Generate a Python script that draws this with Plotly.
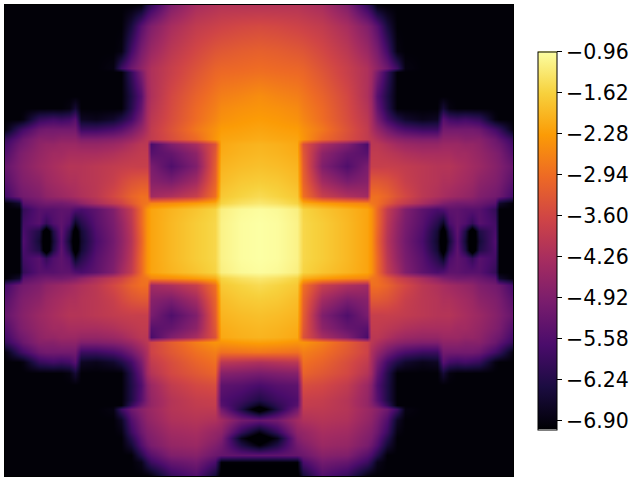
import plotly.graph_objects as go

# knots, left half only (the field is mirrored left/right)
x_left = [4, 18, 22, 38, 45, 52, 60, 68, 74, 80, 95, 112, 120, 130, 140, 146, 150, 170, 195, 214, 220, 240, 258.5]

y_rows = [4, 25, 50, 67, 71, 95, 107, 118, 128, 138, 143, 152, 165, 180, 195, 202, 208, 222, 230, 240,
          250, 258, 272, 278, 285, 300, 315, 328, 337, 342, 352, 362, 373, 385, 400, 405, 409, 420, 432, 438, 445, 455, 462, 476]

z_left = [
    [-7, -7, -7, -7, -7, -7, -7, -7, -7, -7, -7, -7, -7, -7, -6.9, -6.3, -6.0, -4.9, -4.3, -4.15, -4.1, -4.1, -4.1],
    [-7, -7, -7, -7, -7, -7, -7, -7, -7, -7, -7, -7, -7, -6.4, -5.5, -5.1, -4.9, -4.3, -3.9, -3.75, -3.7, -3.6, -3.55],
    [-7, -7, -7, -7, -7, -7, -7, -7, -7, -7, -7, -7, -6.9, -5.8, -5.0, -4.7, -4.5, -4.0, -3.6, -3.35, -3.3, -3.2, -3.15],
    [-7, -7, -7, -7, -7, -7, -7, -7, -7, -7, -7, -6.9, -5.9, -5.2, -4.7, -4.4, -4.2, -3.8, -3.4, -3.1, -3.05, -3.0, -2.95],
    [-7, -7, -7, -7, -7, -7, -7, -7, -7, -7, -7, -7, -7, -6.0, -5.0, -4.4, -4.2, -3.8, -3.35, -3.05, -3.0, -2.95, -2.9],
    [-7, -7, -7, -7, -7, -7, -7, -7, -7, -7, -7, -7, -7, -6.3, -5.5, -4.5, -4.2, -3.6, -3.1, -2.8, -2.7, -2.6, -2.5],
    [-7, -7, -7, -7, -7, -7, -7, -6.9, -6.5, -7, -7, -7, -7, -6.2, -5.3, -4.4, -4.1, -3.55, -3.0, -2.7, -2.55, -2.45, -2.4],
    [-7, -7, -6.9, -6.0, -5.9, -5.8, -5.9, -5.8, -5.5, -6.7, -6.8, -6.6, -6.3, -5.8, -5.0, -4.3, -4.0, -3.5, -2.95, -2.6, -2.45, -2.35, -2.3],
    [-6.9, -6.0, -5.8, -5.2, -5.1, -5.1, -5.1, -5.1, -5.1, -5.9, -5.9, -5.7, -5.5, -5.1, -4.6, -4.2, -3.9, -3.4, -2.8, -2.45, -2.3, -2.25, -2.2],
    [-6.0, -5.4, -5.2, -4.8, -4.8, -4.8, -4.7, -4.7, -4.7, -4.9, -4.9, -4.8, -4.7, -4.5, -4.2, -4.0, -3.9, -3.5, -3.0, -2.4, -2.2, -2.15, -2.1],
    [-5.8, -5.2, -5.1, -4.7, -4.6, -4.6, -4.5, -4.5, -4.5, -4.6, -4.6, -4.5, -4.4, -4.2, -4.0, -4.0, -5.7, -4.9, -4.3, -3.4, -2.15, -2.05, -2.0],
    [-5.6, -5.0, -4.9, -4.6, -4.5, -4.4, -4.4, -4.3, -4.3, -4.3, -4.3, -4.2, -4.1, -4.0, -3.9, -3.9, -5.5, -5.3, -4.7, -3.3, -2.1, -2.0, -1.95],
    [-5.3, -4.9, -4.8, -4.5, -4.4, -4.3, -4.2, -4.1, -4.1, -4.1, -4.0, -3.9, -3.85, -3.8, -3.8, -3.8, -5.0, -5.6, -4.9, -3.2, -2.0, -1.9, -1.85],
    [-5.5, -5.0, -4.9, -4.7, -4.5, -4.4, -4.3, -4.2, -4.2, -4.1, -4.0, -3.8, -3.6, -3.4, -3.3, -3.3, -4.8, -5.0, -4.4, -3.1, -1.9, -1.75, -1.7],
    [-5.8, -5.2, -5.1, -4.9, -4.7, -4.6, -4.5, -4.4, -4.3, -4.2, -4.0, -3.6, -3.4, -3.1, -2.9, -2.9, -4.4, -4.2, -3.8, -2.9, -1.75, -1.6, -1.5],
    [-7, -6.6, -5.5, -5.2, -5.1, -5.1, -5.1, -5.0, -4.9, -4.7, -4.3, -3.9, -3.7, -3.3, -2.9, -2.8, -2.6, -2.5, -2.3, -2.1, -1.6, -1.4, -1.3],
    [-7, -7, -6.0, -5.5, -5.5, -5.5, -5.4, -5.4, -5.6, -5.7, -5.4, -4.9, -4.4, -3.9, -3.0, -2.4, -2.2, -2.0, -1.8, -1.6, -1.2, -1.05, -1.0],
    [-7, -7, -5.8, -5.5, -6.0, -5.6, -5.4, -5.7, -6.7, -6.2, -5.5, -5.0, -4.6, -4.0, -3.0, -2.4, -2.2, -1.95, -1.7, -1.55, -1.15, -1.0, -0.96],
    [-7, -7, -5.7, -6.3, -7.6, -6.3, -5.4, -6.2, -7.4, -6.5, -5.6, -5.05, -4.65, -4.05, -3.05, -2.4, -2.2, -1.95, -1.7, -1.55, -1.15, -1.0, -0.96],
    [-7, -7, -5.6, -6.5, -7.6, -6.5, -5.5, -6.5, -7.5, -6.6, -5.7, -5.1, -4.7, -4.1, -3.1, -2.4, -2.2, -1.95, -1.7, -1.55, -1.15, -1.0, -0.96],
    [-7, -7, -5.7, -6.3, -7.6, -6.3, -5.4, -6.2, -7.4, -6.5, -5.6, -5.05, -4.65, -4.05, -3.05, -2.4, -2.2, -1.95, -1.7, -1.55, -1.15, -1.0, -0.96],
    [-7, -7, -5.8, -5.5, -6.0, -5.6, -5.4, -5.7, -6.7, -6.2, -5.5, -5.0, -4.6, -4.0, -3.0, -2.4, -2.2, -1.95, -1.7, -1.55, -1.15, -1.0, -0.96],
    [-7, -7, -6.0, -5.5, -5.5, -5.5, -5.4, -5.4, -5.6, -5.7, -5.4, -4.9, -4.4, -3.9, -3.0, -2.4, -2.2, -2.0, -1.8, -1.6, -1.2, -1.05, -1.0],
    [-7, -6.6, -5.5, -5.2, -5.1, -5.1, -5.1, -5.0, -4.9, -4.7, -4.3, -3.9, -3.7, -3.3, -2.9, -2.8, -2.6, -2.5, -2.3, -2.1, -1.6, -1.4, -1.3],
    [-5.8, -5.2, -5.1, -4.9, -4.7, -4.6, -4.5, -4.4, -4.3, -4.2, -4.0, -3.6, -3.4, -3.1, -2.9, -2.9, -4.4, -4.2, -3.8, -2.9, -1.75, -1.6, -1.5],
    [-5.5, -5.0, -4.9, -4.7, -4.5, -4.4, -4.3, -4.2, -4.2, -4.1, -4.0, -3.8, -3.6, -3.4, -3.3, -3.3, -4.8, -5.0, -4.4, -3.1, -1.9, -1.75, -1.7],
    [-5.3, -4.9, -4.8, -4.5, -4.4, -4.3, -4.2, -4.1, -4.1, -4.1, -4.0, -3.9, -3.85, -3.8, -3.8, -3.8, -5.0, -5.6, -4.9, -3.2, -2.0, -1.9, -1.85],
    [-5.6, -5.0, -4.9, -4.6, -4.5, -4.4, -4.4, -4.3, -4.3, -4.3, -4.3, -4.2, -4.1, -4.0, -3.9, -3.9, -5.5, -5.3, -4.7, -3.3, -2.1, -2.0, -1.95],
    [-5.8, -5.2, -5.1, -4.7, -4.6, -4.6, -4.5, -4.5, -4.5, -4.6, -4.6, -4.5, -4.4, -4.2, -4.0, -4.0, -5.7, -4.9, -4.3, -3.4, -2.15, -2.05, -2.0],
    [-6.0, -5.4, -5.2, -4.8, -4.8, -4.8, -4.7, -4.7, -4.7, -4.9, -4.9, -4.8, -4.7, -4.5, -4.2, -4.0, -3.7, -3.2, -2.7, -2.4, -2.4, -2.3, -2.25],
    [-6.9, -6.0, -5.8, -5.2, -5.1, -5.1, -5.1, -5.1, -5.1, -5.9, -5.9, -5.7, -5.5, -5.1, -4.6, -4.2, -3.7, -3.3, -2.9, -2.7, -2.9, -2.85, -2.8],
    [-7, -7, -6.9, -6.0, -5.9, -5.8, -5.9, -5.8, -5.5, -6.7, -6.8, -6.6, -6.3, -5.8, -5.0, -4.3, -3.9, -3.5, -3.1, -2.9, -4.0, -4.1, -4.2],
    [-7, -7, -7, -7, -7, -7, -7, -6.9, -6.5, -7, -7, -7, -7, -6.2, -5.3, -4.4, -4.1, -3.6, -3.3, -3.1, -4.8, -4.9, -5.0],
    [-7, -7, -7, -7, -7, -7, -7, -7, -7, -7, -7, -7, -7, -6.3, -5.6, -4.8, -4.5, -3.9, -3.6, -3.5, -5.4, -5.5, -5.7],
    [-7, -7, -7, -7, -7, -7, -7, -7, -7, -7, -7, -7, -7, -6.3, -5.5, -4.9, -4.6, -4.1, -3.85, -3.8, -5.6, -5.9, -6.3],
    [-7, -7, -7, -7, -7, -7, -7, -7, -7, -7, -7, -7, -7, -6.0, -5.2, -4.8, -4.6, -4.1, -3.9, -3.85, -5.5, -6.1, -6.8],
    [-7, -7, -7, -7, -7, -7, -7, -7, -7, -7, -7, -6.9, -5.9, -5.2, -4.8, -4.6, -4.5, -4.1, -3.95, -3.95, -5.1, -6.3, -7.5],
    [-7, -7, -7, -7, -7, -7, -7, -7, -7, -7, -7, -7, -6.7, -5.6, -5.0, -4.7, -4.6, -4.2, -4.1, -4.2, -4.4, -5.1, -5.3],
    [-7, -7, -7, -7, -7, -7, -7, -7, -7, -7, -7, -7, -6.9, -5.9, -5.2, -4.9, -4.8, -4.4, -4.3, -4.6, -4.7, -6.0, -6.9],
    [-7, -7, -7, -7, -7, -7, -7, -7, -7, -7, -7, -7, -7, -6.2, -5.4, -5.0, -4.9, -4.5, -4.4, -4.7, -4.9, -6.8, -7.6],
    [-7, -7, -7, -7, -7, -7, -7, -7, -7, -7, -7, -7, -7, -6.5, -5.6, -5.2, -5.0, -4.6, -4.5, -4.9, -5.1, -6.3, -7.0],
    [-7, -7, -7, -7, -7, -7, -7, -7, -7, -7, -7, -7, -7, -7, -6.2, -5.7, -5.5, -4.9, -4.8, -5.2, -5.3, -5.4, -5.4],
    [-7, -7, -7, -7, -7, -7, -7, -7, -7, -7, -7, -7, -7, -7, -6.8, -6.2, -5.9, -5.3, -5.1, -5.7, -7, -7, -7],
    [-7, -7, -7, -7, -7, -7, -7, -7, -7, -7, -7, -7, -7, -7, -7, -7, -6.9, -6.0, -5.6, -6.5, -7.2, -7.2, -7.2],
]

tick_vals = [-0.96, -1.62, -2.28, -2.94, -3.60, -4.26, -4.92, -5.58, -6.24, -6.90]
tick_text = ["−0.96", "−1.62", "−2.28", "−2.94", "−3.60", "−4.26", "−4.92", "−5.58", "−6.24", "−6.90"]

# mirror the left half around the centre column
x_full = x_left + [517 - v for v in x_left[-2::-1]]
z_full = [row + row[-2::-1] for row in z_left]

fig = go.Figure(go.Heatmap(
    x=x_full,
    y=y_rows,
    z=z_full,
    zmin=-7.04,
    zmax=-0.96,
    zsmooth="best",
    colorscale="Inferno",
    hoverinfo="skip",
    colorbar=dict(
        thicknessmode="pixels", thickness=19,
        lenmode="pixels", len=378,
        x=533 / 508, xanchor="left", xpad=0,
        y=0.5, yanchor="middle", ypad=0,
        tickmode="array", tickvals=tick_vals, ticktext=tick_text,
        ticks="outside", ticklen=5, tickwidth=1, tickcolor="black",
        outlinecolor="black", outlinewidth=1,
        tickfont=dict(family="DejaVu Sans", size=20.5, color="black"),
    ),
))

fig.update_xaxes(range=[4, 513], visible=True, showticklabels=False, ticks="",
                 showgrid=False, zeroline=False, showline=True, mirror=True,
                 linecolor="black", linewidth=1)
fig.update_yaxes(range=[476, 4], visible=True, showticklabels=False, ticks="",
                 showgrid=False, zeroline=False, showline=True, mirror=True,
                 linecolor="black", linewidth=1)
fig.update_layout(
    width=640, height=480,
    paper_bgcolor="white", plot_bgcolor="black",
    margin=dict(l=5, r=127, t=5, b=4),
)

# the page's default body margin would push the figure 8px in
fig.write_html("out.html", config=dict(displayModeBar=False),
               post_script="document.body.style.margin='0';")
